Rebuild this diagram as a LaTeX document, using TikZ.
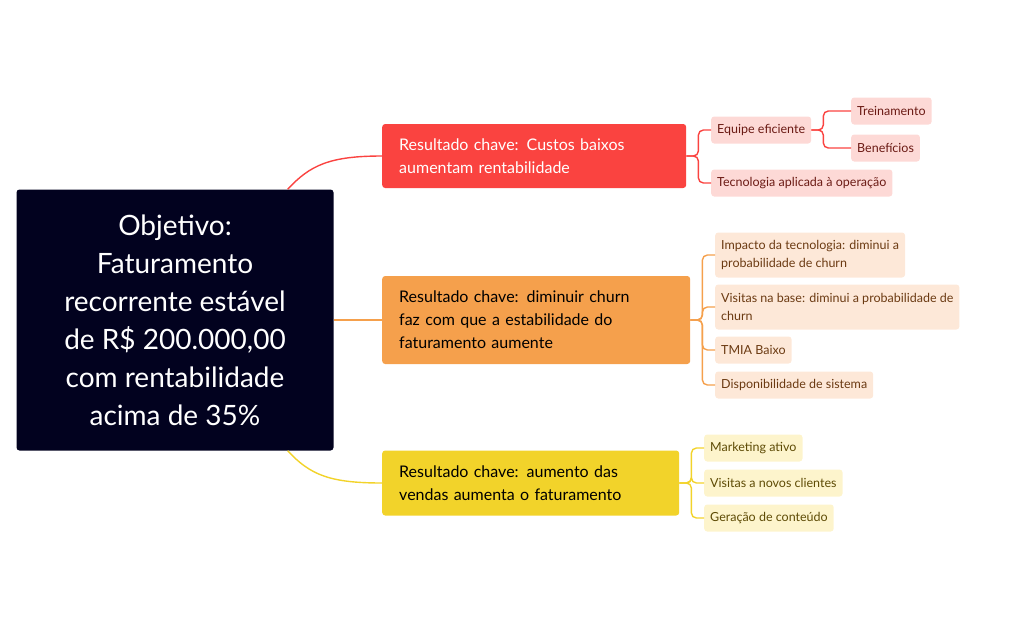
\documentclass[tikz,border=0pt]{standalone}
\usepackage{fontspec}
\setmainfont{Lato}
\usetikzlibrary{positioning}
\definecolor{navy}{HTML}{02021F}
\definecolor{kred}{HTML}{FA4340}
\definecolor{korange}{HTML}{F5A04C}
\definecolor{kyellow}{HTML}{F2D32A}
\definecolor{lred}{HTML}{FDD9D6}
\definecolor{lorange}{HTML}{FDE8D8}
\definecolor{lyellow}{HTML}{FDF4CC}
\definecolor{tred}{HTML}{6B1A14}
\definecolor{torange}{HTML}{6B3A12}
\definecolor{tyellow}{HTML}{5E4B05}
\begin{document}
\begin{tikzpicture}[x=1pt,y=-1pt,
		goal/.style={fill=navy,text=white,rounded corners=3pt,minimum width=317pt,minimum height=261pt,align=center,font=\fontsize{28}{38}\selectfont},
		key/.style={anchor=west,rounded corners=3pt,inner xsep=17pt,align=left,font=\fontsize{16}{23}\selectfont},
		leaf/.style={anchor=west,rounded corners=3pt,inner xsep=6pt,minimum height=27pt,align=left,font=\fontsize{12.5}{18}\selectfont},
		link/.style={line width=1.4pt}]
	\useasboundingbox (0,0) rectangle (1017,630);
	%% objective
	\node[goal] (goal) at (175,320) {Objetivo:\\Faturamento\\recorrente estável\\de R\$ 200.000,00\\com rentabilidade\\acima de 35\%};
	%% key results
	\node[key,fill=kred,text=white,minimum width=304pt,minimum height=64pt,text width=270pt] (kr1) at (382,156) {Resultado chave: Custos baixos\\aumentam rentabilidade};
	\node[key,fill=korange,text=black,minimum width=308pt,minimum height=88pt,text width=274pt] (kr2) at (382,320) {Resultado chave: diminuir churn\\faz com que a estabilidade do\\faturamento aumente};
	\node[key,fill=kyellow,text=black,minimum width=297pt,minimum height=65pt,text width=263pt] (kr3) at (382,483) {Resultado chave: aumento das\\vendas aumenta o faturamento};
	%% links from objective
	\draw[link,kred] ([xshift=-46pt]goal.north east) .. controls (310,165) and (330,156) .. (kr1.west);
	\draw[link,korange] (goal.east) -- (kr2.west);
	\draw[link,kyellow] ([xshift=-46pt]goal.south east) .. controls (310,475) and (330,483) .. (kr3.west);
	%% red leaves
	\node[leaf,fill=lred,text=tred] (team) at (711,130) {Equipe eficiente};
	\node[leaf,fill=lred,text=tred] (train) at (851,111) {Treinamento};
	\node[leaf,fill=lred,text=tred] (bene) at (851,148) {Benefícios};
	\node[leaf,fill=lred,text=tred] (tech) at (711,183) {Tecnologia aplicada à operação};
	\foreach \n in {team,tech}
		\draw[link,kred,rounded corners=5pt] (kr1.east) -- ++(12,0) |- (\n.west);
	\foreach \n in {train,bene}
		\draw[link,kred,rounded corners=5pt] (team.east) -- ++(12,0) |- (\n.west);
	%% orange leaves
	\node[leaf,fill=lorange,text=torange,minimum height=45pt] (imp) at (715,255) {Impacto da tecnologia: diminui a\\probabilidade de churn};
	\node[leaf,fill=lorange,text=torange,minimum height=45pt] (vis) at (715,307) {Visitas na base: diminui a probabilidade de\\churn};
	\node[leaf,fill=lorange,text=torange] (tmia) at (715,350) {TMIA Baixo};
	\node[leaf,fill=lorange,text=torange] (disp) at (715,385) {Disponibilidade de sistema};
	\foreach \n in {imp,vis,tmia,disp}
		\draw[link,korange,rounded corners=5pt] (kr2.east) -- ++(12,0) |- (\n.west);
	%% yellow leaves
	\node[leaf,fill=lyellow,text=tyellow] (mkt) at (704,448) {Marketing ativo};
	\node[leaf,fill=lyellow,text=tyellow] (novos) at (704,483) {Visitas a novos clientes};
	\node[leaf,fill=lyellow,text=tyellow] (cont) at (704,518) {Geração de conteúdo};
	\foreach \n in {mkt,novos,cont}
		\draw[link,kyellow,rounded corners=5pt] (kr3.east) -- ++(12,0) |- (\n.west);
\end{tikzpicture}
\end{document}
